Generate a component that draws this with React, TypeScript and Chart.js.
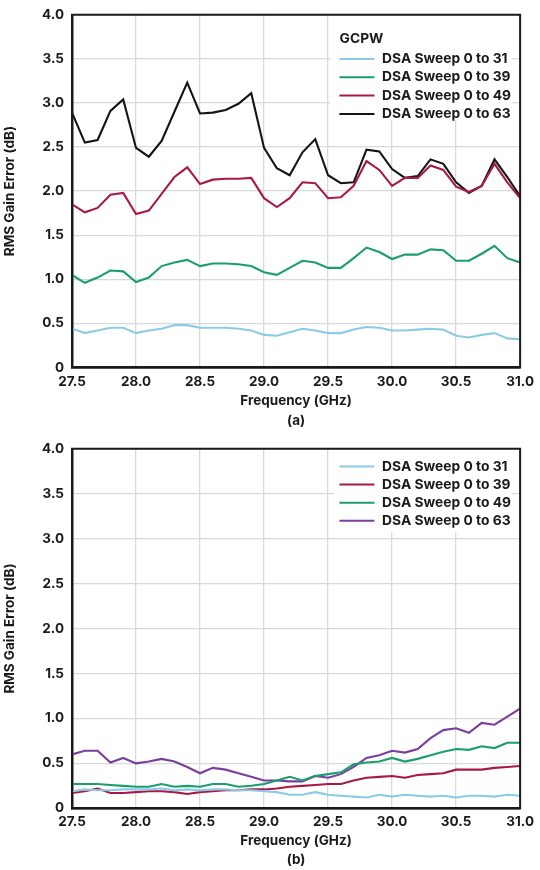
import React, { useEffect, useRef } from 'react';
import { Chart, registerables } from 'chart.js';

Chart.register(...registerables);

// ---------- data ----------
const FREQ_GHZ = [
  27.5, 27.6, 27.7, 27.8, 27.9, 28.0, 28.1, 28.2, 28.3, 28.4, 28.5, 28.6,
  28.7, 28.8, 28.9, 29.0, 29.1, 29.2, 29.3, 29.4, 29.5, 29.6, 29.7, 29.8,
  29.9, 30.0, 30.1, 30.2, 30.3, 30.4, 30.5, 30.6, 30.7, 30.8, 30.9, 31.0,
];

// (a) GCPW
const A_SWEEP_31 = [
  0.44, 0.39, 0.42, 0.45, 0.45, 0.39, 0.42, 0.44, 0.48, 0.48, 0.45, 0.45,
  0.45, 0.44, 0.42, 0.37, 0.36, 0.40, 0.44, 0.42, 0.39, 0.39, 0.43, 0.46,
  0.45, 0.42, 0.42, 0.43, 0.44, 0.43, 0.36, 0.34, 0.37, 0.39, 0.33, 0.32,
];
const A_SWEEP_39 = [
  1.05, 0.96, 1.02, 1.10, 1.09, 0.97, 1.02, 1.15, 1.19, 1.22, 1.15, 1.18,
  1.18, 1.17, 1.15, 1.08, 1.05, 1.13, 1.21, 1.19, 1.13, 1.13, 1.24, 1.36,
  1.31, 1.23, 1.28, 1.28, 1.34, 1.33, 1.21, 1.21, 1.29, 1.38, 1.24, 1.19,
];
const A_SWEEP_49 = [
  1.85, 1.76, 1.81, 1.96, 1.98, 1.74, 1.78, 1.97, 2.16, 2.27, 2.08, 2.13,
  2.14, 2.14, 2.15, 1.92, 1.82, 1.92, 2.10, 2.09, 1.92, 1.93, 2.06, 2.34,
  2.24, 2.06, 2.15, 2.15, 2.29, 2.24, 2.05, 1.99, 2.06, 2.31, 2.10, 1.92,
];
const A_SWEEP_63 = [
  2.89, 2.55, 2.58, 2.91, 3.04, 2.49, 2.39, 2.57, 2.90, 3.23, 2.88, 2.89,
  2.92, 2.99, 3.11, 2.49, 2.26, 2.18, 2.44, 2.59, 2.18, 2.09, 2.10, 2.47,
  2.45, 2.25, 2.15, 2.17, 2.36, 2.31, 2.10, 1.98, 2.06, 2.36, 2.16, 1.94,
];

// (b)
const B_SWEEP_31 = [
  0.19, 0.21, 0.20, 0.20, 0.21, 0.21, 0.21, 0.22, 0.20, 0.21, 0.20, 0.21,
  0.21, 0.20, 0.20, 0.19, 0.18, 0.15, 0.15, 0.18, 0.15, 0.14, 0.13, 0.12,
  0.15, 0.13, 0.15, 0.14, 0.13, 0.14, 0.12, 0.14, 0.14, 0.13, 0.15, 0.14,
];
const B_SWEEP_39 = [
  0.17, 0.19, 0.22, 0.17, 0.17, 0.18, 0.19, 0.19, 0.18, 0.16, 0.18, 0.19,
  0.20, 0.20, 0.21, 0.21, 0.22, 0.24, 0.25, 0.26, 0.27, 0.27, 0.31, 0.34,
  0.35, 0.36, 0.34, 0.37, 0.38, 0.39, 0.43, 0.43, 0.43, 0.45, 0.46, 0.47,
];
const B_SWEEP_49 = [
  0.27, 0.27, 0.27, 0.26, 0.25, 0.24, 0.24, 0.27, 0.24, 0.25, 0.24, 0.27,
  0.27, 0.24, 0.25, 0.27, 0.31, 0.35, 0.31, 0.36, 0.38, 0.40, 0.49, 0.51,
  0.52, 0.56, 0.52, 0.55, 0.59, 0.63, 0.66, 0.65, 0.69, 0.67, 0.73, 0.73,
];
const B_SWEEP_63 = [
  0.60, 0.64, 0.64, 0.51, 0.56, 0.50, 0.52, 0.55, 0.52, 0.46, 0.39, 0.45,
  0.43, 0.39, 0.35, 0.31, 0.31, 0.30, 0.30, 0.36, 0.34, 0.38, 0.46, 0.56,
  0.59, 0.64, 0.62, 0.66, 0.78, 0.87, 0.89, 0.84, 0.95, 0.93, 1.02, 1.11,
];

const LABELS_A = ['DSA Sweep 0 to 31', 'DSA Sweep 0 to 39', 'DSA Sweep 0 to 49', 'DSA Sweep 0 to 63'];
const LABELS_B = ['DSA Sweep 0 to 31', 'DSA Sweep 0 to 39', 'DSA Sweep 0 to 49', 'DSA Sweep 0 to 63'];
const LEGEND_TITLE_A = 'GCPW';
const X_TITLE = 'Frequency (GHz)';
const Y_TITLE = 'RMS Gain Error (dB)';
const CAPTION_A = '(a)';
const CAPTION_B = '(b)';

// ---------- styles ----------
const FONT = 'Inter, "Noto Sans", "DejaVu Sans", sans-serif';
const TEXT = '#1a1a1a';
const C_BLUE = '#8ccbe6';
const C_GREEN = '#1a9e6e';
const C_RED = '#a8194a';
const C_BLACK = '#141414';
const C_PURPLE = '#7a3e9d';

const boxLegendPlugin = {
  id: 'boxLegend',
  beforeDatasetsDraw(chart: any, _args: any, o: any) {
    const ca = chart.chartArea;
    const ctx = chart.ctx;
    ctx.save();
    ctx.fillStyle = '#ffffff';
    ctx.fillRect(ca.right + o.boxLeft, ca.top + 1, o.boxRight - o.boxLeft, o.boxBottom - 1);
    ctx.restore();
  },
  afterDraw(chart: any, _args: any, o: any) {
    const ca = chart.chartArea;
    const ctx = chart.ctx;
    ctx.save();
    // frame
    ctx.strokeStyle = TEXT;
    ctx.lineWidth = 2;
    ctx.strokeRect(ca.left, ca.top, ca.right - ca.left, ca.bottom - ca.top);
    // legend
    ctx.font = `bold ${o.fontSize}px ${FONT}`;
    ctx.textBaseline = 'middle';
    ctx.textAlign = 'left';
    ctx.fillStyle = TEXT;
    if (o.title) ctx.fillText(o.title, ca.right + o.titleX, ca.top + o.titleY);
    chart.data.datasets.forEach((ds: any, i: number) => {
      const y = ca.top + o.rowY + i * o.rowGap;
      ctx.strokeStyle = ds.borderColor;
      ctx.lineWidth = 2;
      ctx.beginPath();
      ctx.moveTo(ca.right + o.lineX0, y);
      ctx.lineTo(ca.right + o.lineX1, y);
      ctx.stroke();
      ctx.fillStyle = TEXT;
      ctx.fillText(ds.label, ca.right + o.textX, y);
    });
    ctx.restore();
  },
};

function makeDatasets(series: number[][], labels: string[], colors: string[]) {
  return series.map((vals, i) => ({
    label: labels[i],
    data: vals.map((v, j) => ({ x: FREQ_GHZ[j], y: v })),
    borderColor: colors[i],
    backgroundColor: colors[i],
    borderWidth: 2.1,
    pointRadius: 0,
    tension: 0,
    fill: false,
  }));
}

function makeConfig(opts: {
  series: number[][];
  labels: string[];
  colors: string[];
  caption: string;
  padTop: number;
  xAxisHeight: number;
  titlePadBottom: number;
  legend: any;
}): any {
  return {
    type: 'line',
    data: { datasets: makeDatasets(opts.series, opts.labels, opts.colors) },
    plugins: [boxLegendPlugin],
    options: {
      animation: false,
      responsive: false,
      devicePixelRatio: 1,
      layout: { padding: { top: opts.padTop, right: 17, left: 0, bottom: 0 } },
      plugins: {
        legend: { display: false },
        tooltip: { enabled: false },
        boxLegend: opts.legend,
      },
      scales: {
        x: {
          type: 'linear',
          min: 27.5,
          max: 31.0,
          afterFit: (s: any) => {
            s.height = opts.xAxisHeight;
          },
          ticks: {
            stepSize: 0.5,
            padding: 6,
            color: TEXT,
            maxRotation: 0,
            font: { family: FONT, size: 13.5, weight: 'bold', lineHeight: 1.2 },
            callback: (v: number) => Number(v).toFixed(1),
          },
          grid: { color: '#d9d9d9', lineWidth: 1.3, drawTicks: false },
          border: { color: TEXT, width: 2.5 },
          title: {
            display: true,
            text: [X_TITLE, opts.caption],
            color: TEXT,
            font: { family: FONT, size: 13.5, weight: 'bold', lineHeight: 1.42 },
            padding: { top: 0, bottom: opts.titlePadBottom },
          },
        },
        y: {
          type: 'linear',
          min: 0,
          max: 4.0,
          afterFit: (s: any) => {
            s.width = 72;
          },
          ticks: {
            stepSize: 0.5,
            padding: 8,
            color: TEXT,
            font: { family: FONT, size: 13.5, weight: 'bold', lineHeight: 1 },
            callback: (v: number) => (v === 0 ? '0' : Number(v).toFixed(1)),
          },
          grid: { color: '#d9d9d9', lineWidth: 1.3, drawTicks: false },
          border: { color: TEXT, width: 2.5 },
          title: {
            display: true,
            text: Y_TITLE,
            color: TEXT,
            font: { family: FONT, size: 13.5, weight: 'bold', lineHeight: 1.2 },
            padding: { top: 1.9, bottom: 0 },
          },
        },
      },
    },
  };
}

function ChartCanvas({ config, width, height }: { config: () => any; width: number; height: number }) {
  const ref = useRef<HTMLCanvasElement | null>(null);
  useEffect(() => {
    if (!ref.current) return;
    const chart = new Chart(ref.current, config());
    return () => chart.destroy();
  }, []);
  return <canvas ref={ref} width={width} height={height} style={{ display: 'block', width, height }} />;
}

export default function App() {
  useEffect(() => {
    document.body.style.margin = '0';
    document.body.style.overflow = 'hidden';
  }, []);

  const topConfig = () =>
    makeConfig({
      series: [A_SWEEP_31, A_SWEEP_39, A_SWEEP_49, A_SWEEP_63],
      labels: LABELS_A,
      colors: [C_BLUE, C_GREEN, C_RED, C_BLACK],
      caption: CAPTION_A,
      padTop: 7.5,
      xAxisHeight: 66.5,
      titlePadBottom: 3.9,
      legend: {
        title: LEGEND_TITLE_A,
        fontSize: 13.8,
        titleX: -180.5,
        titleY: 24.5,
        rowY: 44.2,
        rowGap: 18.33,
        lineX0: -180.7,
        lineX1: -145.7,
        textX: -138,
        boxLeft: -190,
        boxRight: -8,
        boxBottom: 105.5,
      },
    });

  const bottomConfig = () =>
    makeConfig({
      series: [B_SWEEP_31, B_SWEEP_39, B_SWEEP_49, B_SWEEP_63],
      labels: LABELS_B,
      colors: [C_BLUE, C_RED, C_GREEN, C_PURPLE],
      caption: CAPTION_B,
      padTop: 14.3,
      xAxisHeight: 61.7,
      titlePadBottom: 0.2,
      legend: {
        title: '',
        fontSize: 13.8,
        titleX: 0,
        titleY: 0,
        rowY: 17.7,
        rowGap: 18.1,
        lineX0: -180.7,
        lineX1: -145.7,
        textX: -138,
        boxLeft: -186,
        boxRight: -8,
        boxBottom: 83.4,
      },
    });

  return (
    <div style={{ position: 'relative', width: 540, height: 870, background: '#ffffff' }}>
      <div style={{ position: 'absolute', left: 0, top: 0, width: 540, height: 434 }}>
        <ChartCanvas config={topConfig} width={540} height={434} />
      </div>
      <div style={{ position: 'absolute', left: 0, top: 434, width: 540, height: 436 }}>
        <ChartCanvas config={bottomConfig} width={540} height={436} />
      </div>
    </div>
  );
}
